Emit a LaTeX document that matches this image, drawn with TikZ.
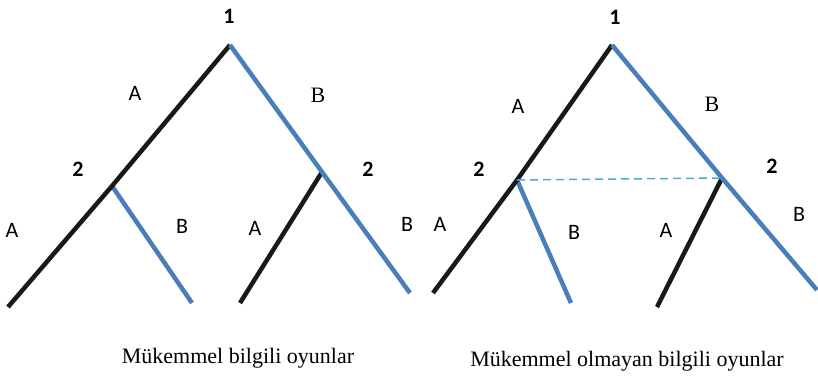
\documentclass[tikz,border=0pt]{standalone}
\usepackage{fontspec}
\setmainfont{Liberation Serif}
\newfontfamily\lblfont{Carlito}
\definecolor{branchblue}{RGB}{74,126,187}
\definecolor{dashteal}{RGB}{75,172,198}
\begin{document}
\begin{tikzpicture}[x=1pt,y=-1pt,
  blk/.style={line width=4.5pt,black!90},
  blu/.style={line width=4.5pt,branchblue},
  info/.style={line width=1.5pt,dashteal,dash pattern=on 8pt off 5pt},
  pl/.style={font=\lblfont\bfseries\fontsize{22}{22}\selectfont,inner sep=0pt},
  act/.style={font=\lblfont\fontsize{22}{22}\selectfont,inner sep=0pt},
  acts/.style={font=\fontsize{22}{22}\selectfont,inner sep=0pt},
  captxt/.style={font=\fontsize{22}{22}\selectfont,inner sep=0pt}]
\useasboundingbox (0,0) rectangle (818,381);
% left tree
\coordinate (r1) at (230,45);
\coordinate (l2) at (112,186);
\coordinate (lll) at (8,307);
\coordinate (llr) at (192,303);
\coordinate (r2) at (322,172);
\coordinate (lrl) at (240,303);
\coordinate (lrr) at (410,293);
\draw[blu] (l2) -- (llr);
\draw[blk] (r2) -- (lrl);
\draw[blk] (r1) -- (l2) -- (lll);
\draw[blu] (r1) -- (r2) -- (lrr);
\node[pl] (p1) at (229,16) {1};
\node[act] (ta1) at (135,93) {A};
\node[acts] (tb1) at (318,95) {B};
\node[pl] (p2a) at (78,169) {2};
\node[pl] (p2b) at (368,169) {2};
\node[act] (ta2) at (12,230) {A};
\node[act] (tb2) at (182,226) {B};
\node[act] (ta3) at (255,228) {A};
\node[act] (tb3) at (407,224) {B};
% right tree
\coordinate (R1) at (612,45);
\coordinate (L2) at (517,180);
\coordinate (LLL) at (433,293);
\coordinate (LLR) at (571,303);
\coordinate (R2) at (722,178);
\coordinate (LRL) at (657,307);
\coordinate (LRR) at (817,290);
\draw[blu] (L2) -- (LLR);
\draw[blk] (R2) -- (LRL);
\draw[blk] (R1) -- (L2) -- (LLL);
\draw[blu] (R1) -- (R2) -- (LRR);
\draw[info] (L2) -- (R2);
\node[pl] (q1) at (615,17) {1};
\node[act] (ua1) at (518,106) {A};
\node[acts] (ub1) at (712,104) {B};
\node[pl] (q2a) at (479,169) {2};
\node[pl] (q2b) at (772,166) {2};
\node[act] (ua2) at (440,224) {A};
\node[act] (ub2) at (574,232) {B};
\node[act] (ua3) at (666,230) {A};
\node[act] (ub3) at (799,214) {B};
% captions
\node[captxt] (c1) at (238,358) {Mükemmel bilgili oyunlar};
\node[captxt] (c2) at (627,361) {Mükemmel olmayan bilgili oyunlar};
\end{tikzpicture}
\end{document}
